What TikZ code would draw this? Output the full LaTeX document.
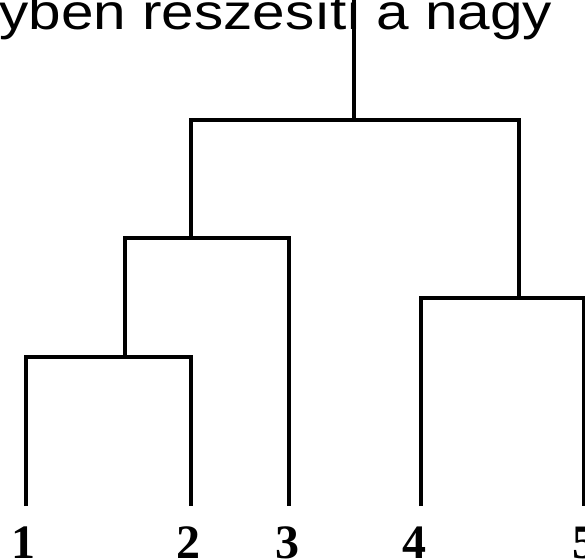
\documentclass[tikz,border=0pt]{standalone}
\usepackage{fontspec}
\setmainfont{Liberation Serif}
\newfontfamily\arialfont{Liberation Sans}
\begin{document}
\begin{tikzpicture}[x=1pt,y=-1pt,
  link/.style={line width=3.8pt, line join=miter, line cap=butt},
  leaflabel/.style={anchor=base, inner sep=0pt, font=\fontsize{48}{48}\selectfont\bfseries},
  toptext/.style={anchor=base west, inner sep=0pt, xscale=1.17, font=\arialfont\fontsize{50}{50}\selectfont}]
\useasboundingbox (0,0) rectangle (585,558);
\clip (0,0) rectangle (585,558);
\fill[white] (0,0) rectangle (585,558);
% leaves
\coordinate (l1) at (26,506);
\coordinate (l2) at (191,506);
\coordinate (l3) at (289,506);
\coordinate (l4) at (421,506);
\coordinate (l5) at (584,506);
% junctions
\coordinate (a) at (125,357);
\coordinate (b) at (191,238);
\coordinate (c) at (519,298);
\coordinate (r) at (354,120);
\coordinate (top) at (354,-5);
% text
\node[toptext] (title) at (-1,29) {yben részesíti a nagy};
% dendrogram
\draw[link] (l1) |- (a) -| (l2);
\draw[link] (a) |- (b) -| (l3);
\draw[link] (l4) |- (c) -| (l5);
\draw[link] (b) |- (r) -| (c);
\draw[link] (r) -- (top);
% labels
\node[leaflabel] (n1) at (24,558) {1};
\node[leaflabel] (n2) at (188,558) {2};
\node[leaflabel] (n3) at (287,558) {3};
\node[leaflabel] (n4) at (414,558) {4};
\node[leaflabel] (n5) at (584,558) {5};
\end{tikzpicture}
\end{document}
